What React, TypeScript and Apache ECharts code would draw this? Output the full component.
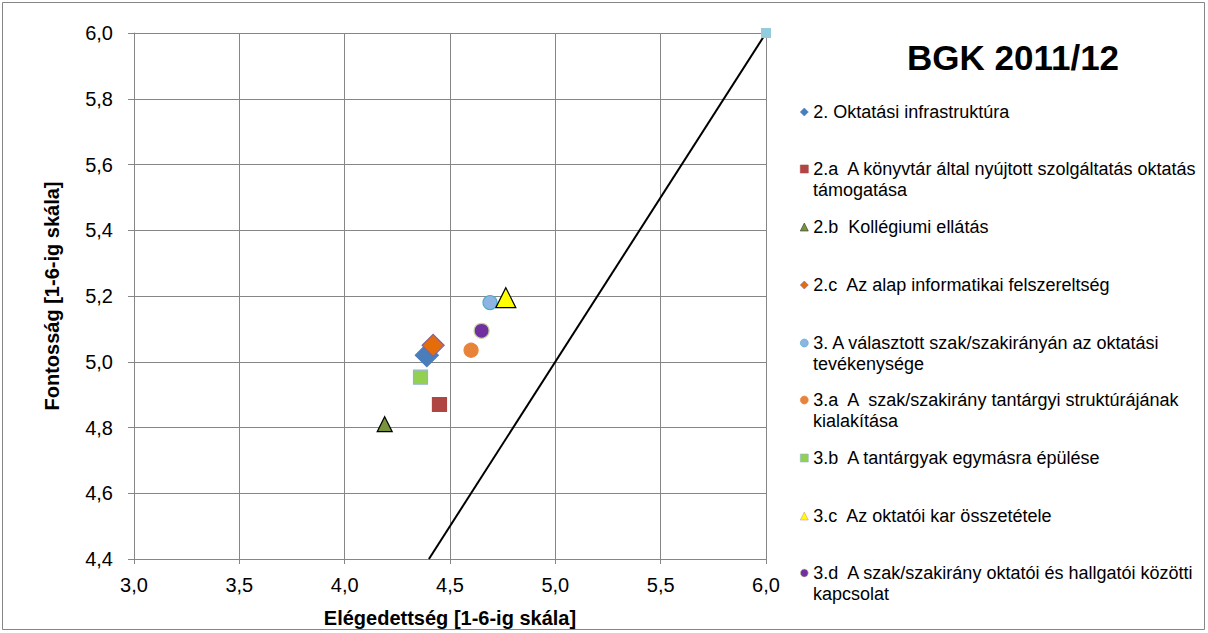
import React, { useEffect, useRef } from "react";
import * as echarts from "echarts";

const seriesNames = [
  "2. Oktatási infrastruktúra",
  "2.a  A könyvtár által nyújtott szolgáltatás oktatás támogatása",
  "2.b  Kollégiumi ellátás",
  "2.c  Az alap informatikai felszereltség",
  "3. A választott szak/szakirányán az oktatási tevékenysége",
  "3.a  A  szak/szakirány tantárgyi struktúrájának kialakítása",
  "3.b  A tantárgyak egymásra épülése",
  "3.c  Az oktatói kar összetétele",
  "3.d  A szak/szakirány oktatói és hallgatói közötti kapcsolat",
];
const legendFirstLines = [
  "2. Oktatási infrastruktúra",
  "2.a  A könyvtár által nyújtott szolgáltatás oktatás",
  "2.b  Kollégiumi ellátás",
  "2.c  Az alap informatikai felszereltség",
  "3. A választott szak/szakirányán az oktatási",
  "3.a  A  szak/szakirány tantárgyi struktúrájának",
  "3.b  A tantárgyak egymásra épülése",
  "3.c  Az oktatói kar összetétele",
  "3.d  A szak/szakirány oktatói és hallgatói közötti",
];
const legendSecondLines = ["", "támogatása", "", "", "tevékenysége", "kialakítása", "", "", "kapcsolat"];
const satisfaction = [4.39, 4.45, 4.19, 4.42, 4.69, 4.6, 4.36, 4.765, 4.65];
const importance = [5.02, 4.87, 4.81, 5.05, 5.18, 5.035, 4.953, 5.195, 5.094];
const symbols = ["diamond", "rect", "triangle", "diamond", "circle", "circle", "rect", "triangle", "circle"];
const symbolSizes = [23, 14, 15, 22, 14, 14, 14, 20, 15];
const fills = ["#4A7EBB", "#B04643", "#77933C", "#E46C0A", "#8DB4E2", "#E8843A", "#92D050", "#FFFF00", "#7030A0"];
const borders = ["#4A7EBB", "#B04643", "#000000", "#8064A2", "#4BACC6", "#E8843A", "#95B3D7", "#000000", "#C3D69B"];
const legendBorders = ["#4A7EBB", "#B04643", "#333333", "#8064A2", "#4BACC6", "#E8843A", "#95B3D7", "#D99694", "#C3D69B"];
const legendCenters = [112, 169, 227, 285, 343, 400, 458, 516, 573];
const diagonal = [[4.4, 4.4], [6, 6]];
const refPoint = [6, 6];
const xTicks = { min: 3, max: 6, interval: 0.5 };
const yTicks = { min: 4.4, max: 6, interval: 0.2 };

export default function App() {
  const ref = useRef<HTMLDivElement>(null);
  useEffect(() => {
    const chart = echarts.init(ref.current!, null, { renderer: "svg" });
    const font = "Arial, 'Liberation Sans', sans-serif";
    const series: any[] = seriesNames.map((n, i) => ({
      name: n,
      type: "scatter",
      data: [[satisfaction[i], importance[i]]],
      symbol: symbols[i],
      symbolSize: symbolSizes[i],
      itemStyle: { color: fills[i], borderColor: borders[i], borderWidth: 1.2, opacity: 1 },
      z: 5,
    }));
    series.push({
      name: "diag",
      type: "line",
      data: diagonal,
      showSymbol: false,
      lineStyle: { color: "#000", width: 2 },
      z: 3,
    });
    series.push({
      name: "ref",
      type: "scatter",
      data: [refPoint],
      symbol: "rect",
      symbolSize: 10,
      itemStyle: { color: "#93CDDD", opacity: 1 },
      z: 6,
    });
    const legends = seriesNames.map((n, i) => ({
      data: [{ name: n, icon: symbols[i] }],
      left: 800,
      top: legendCenters[i] - 9,
      orient: "vertical",
      itemWidth: 8,
      itemHeight: 8,
      itemGap: 0,
      padding: 0,
      selectedMode: false,
      formatter: () => legendFirstLines[i],
      itemStyle: { color: fills[i], borderColor: legendBorders[i], borderWidth: 0.6 },
      textStyle: { fontFamily: font, fontSize: 18, color: "#000", padding: [0, 0, 0, 0] },
    }));
    const graphics: any[] = [
      {
        type: "rect",
        shape: { x: 2.5, y: 2.5, width: 1202, height: 627 },
        style: { fill: "none", stroke: "#868686", lineWidth: 1 },
        silent: true,
      },
      {
        type: "text",
        left: 907,
        top: 40,
        style: { text: "BGK 2011/12", font: `bold 35px ${font}`, fill: "#000" },
      },
    ];
    legendSecondLines.forEach((t, i) => {
      if (!t) return;
      graphics.push({
        type: "text",
        left: 813,
        top: legendCenters[i] + 21 - 9,
        style: { text: t, font: `18px ${font}`, fill: "#000" },
      });
    });
    chart.setOption({
      animation: false,
      backgroundColor: "#fff",
      grid: { left: 134, right: 442, top: 33, bottom: 74, containLabel: false },
      legend: legends,
      graphic: graphics,
      xAxis: {
        type: "value",
        min: xTicks.min,
        max: xTicks.max,
        interval: xTicks.interval,
        name: "Elégedettség [1-6-ig skála]",
        nameLocation: "middle",
        nameGap: 49,
        nameTextStyle: { fontFamily: font, fontSize: 20, fontWeight: "bold", color: "#000" },
        axisLine: { show: true, onZero: false, lineStyle: { color: "#868686" } },
        axisTick: { show: true, length: 5, lineStyle: { color: "#868686" } },
        axisLabel: {
          fontFamily: font,
          fontSize: 20,
          color: "#000",
          margin: 16,
          formatter: (v: number) => v.toFixed(1).replace(".", ","),
        },
        splitLine: { show: true, lineStyle: { color: "#868686", width: 1 } },
      },
      yAxis: {
        type: "value",
        min: yTicks.min,
        max: yTicks.max,
        interval: yTicks.interval,
        name: "Fontosság [1-6-ig skála]",
        nameLocation: "middle",
        nameGap: 72,
        nameTextStyle: { fontFamily: font, fontSize: 20, fontWeight: "bold", color: "#000" },
        axisLine: { show: true, onZero: false, lineStyle: { color: "#868686" } },
        axisTick: { show: true, length: 6, lineStyle: { color: "#868686" } },
        axisLabel: {
          fontFamily: font,
          fontSize: 20,
          color: "#000",
          margin: 21,
          formatter: (v: number) => v.toFixed(1).replace(".", ","),
        },
        splitLine: { show: true, lineStyle: { color: "#868686", width: 1 } },
      },
      series,
    });
    return () => chart.dispose();
  }, []);
  return (
    <div
      ref={ref}
      style={{ position: "fixed", left: 0, top: 0, width: 1208, height: 633, background: "#fff" }}
    />
  );
}
